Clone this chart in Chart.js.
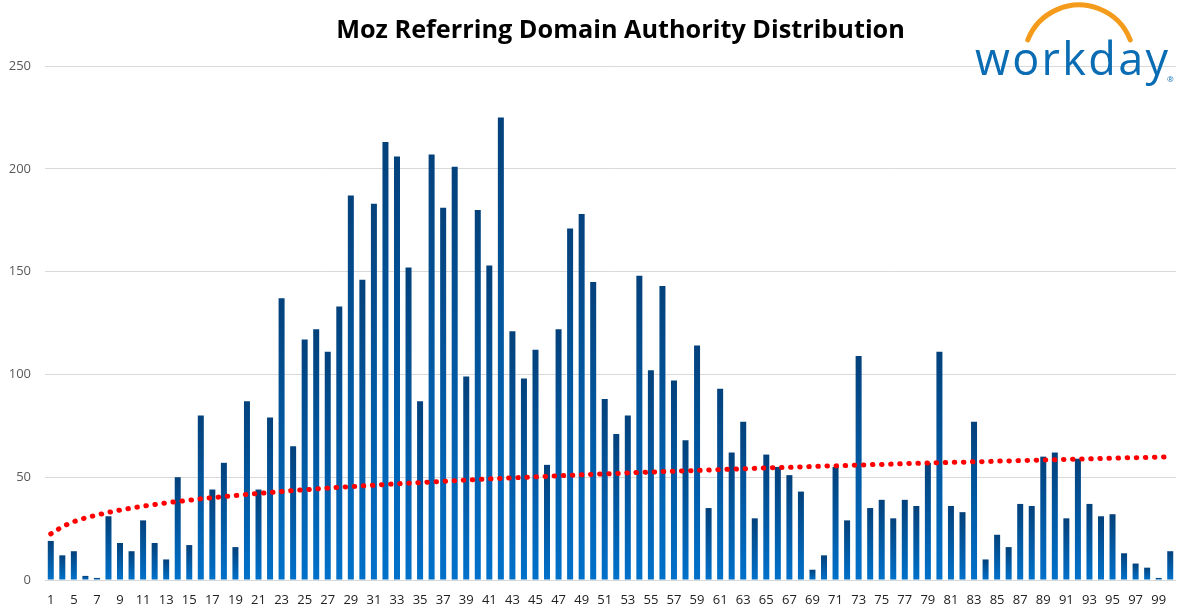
<!DOCTYPE html>
<html>
<head>
<meta charset="utf-8">
<title>Moz Referring Domain Authority Distribution</title>
<script src="https://cdn.jsdelivr.net/npm/chart.js@4/dist/chart.umd.min.js"></script>
<style>
  html, body { margin: 0; padding: 0; background: #fff; }
  #wrap { position: relative; width: 1188px; height: 610px; }
</style>
</head>
<body>
<div id="wrap"><canvas id="chart1" width="1188" height="610"></canvas></div>
<script>

// domain authority buckets (2 and 4 have no referring domains)
var categories = [1, 3, 5, 6, 7, 8, 9, 10, 11, 12, 13, 14, 15, 16, 17, 18, 19, 20,
  21, 22, 23, 24, 25, 26, 27, 28, 29, 30, 31, 32, 33, 34, 35, 36, 37, 38, 39, 40,
  41, 42, 43, 44, 45, 46, 47, 48, 49, 50, 51, 52, 53, 54, 55, 56, 57, 58, 59, 60,
  61, 62, 63, 64, 65, 66, 67, 68, 69, 70, 71, 72, 73, 74, 75, 76, 77, 78, 79, 80,
  81, 82, 83, 84, 85, 86, 87, 88, 89, 90, 91, 92, 93, 94, 95, 96, 97, 98, 99, 100];

// number of referring domains per bucket
var domains = [19, 12, 14, 2, 1, 31, 18, 14, 29, 18, 10, 50, 17, 80, 44, 57, 16,
  87, 44, 79, 137, 65, 117, 122, 111, 133, 187, 146, 183, 213, 206, 152, 87, 207,
  181, 201, 99, 180, 153, 225, 121, 98, 112, 56, 122, 171, 178, 145, 88, 71,
  80, 148, 102, 143, 97, 68, 114, 35, 93, 62, 77, 30, 61, 55, 51, 43,
  5, 12, 55, 29, 109, 35, 39, 30, 39, 36, 57, 111, 36, 33, 77, 10, 22,
  16, 37, 36, 60, 62, 30, 59, 37, 31, 32, 13, 8, 6, 1, 14];

// trendline
var trend = [22.4, 26.0, 28.4, 30.2, 31.6, 32.9, 34.0, 35.0, 35.9, 36.7,
  37.5, 38.2, 38.8, 39.5, 40.0, 40.6, 41.1, 41.6, 42.1, 42.6,
  43.0, 43.5, 43.9, 44.3, 44.7, 45.1, 45.4, 45.8, 46.1, 46.5,
  46.8, 47.1, 47.4, 47.7, 48.0, 48.3, 48.6, 48.9, 49.2, 49.4,
  49.7, 49.9, 50.2, 50.4, 50.7, 50.9, 51.2, 51.4, 51.6, 51.8,
  52.1, 52.3, 52.5, 52.7, 52.9, 53.1, 53.3, 53.5, 53.7, 53.9,
  54.1, 54.3, 54.5, 54.7, 54.8, 55.0, 55.2, 55.4, 55.5, 55.7,
  55.9, 56.1, 56.2, 56.4, 56.6, 56.7, 56.9, 57.0, 57.2, 57.3,
  57.5, 57.6, 57.8, 57.9, 58.1, 58.2, 58.4, 58.5, 58.7, 58.8,
  58.9, 59.1, 59.2, 59.4, 59.5, 59.6, 59.8, 59.9];

var Y_MAX = 250;
var Y_STEP = 50;

var TITLE = 'Moz Referring Domain Authority Distribution';
var LOGO = 'workday';

// gradient for each bar, dark at the top, lighter at the base
function barFill(c) {
  var chart = c.chart;
  if (!chart.chartArea || c.parsed === undefined) return '#0a5a9e';
  var y = chart.scales.y;
  var top = y.getPixelForValue(c.parsed.y);
  var base = y.getPixelForValue(0);
  if (base - top < 1) top = base - 1;
  var g = chart.ctx.createLinearGradient(0, top, 0, base);
  g.addColorStop(0, '#03417b');
  g.addColorStop(1, '#0071ca');
  return g;
}

var decor = {
  id: 'decor',
  afterDraw: function (chart) {
    var ctx = chart.ctx;
    ctx.save();

    // title, sized to span the same width as in the original
    ctx.font = 'bold 26px "Open Sans"';
    var size = 26 * 569 / ctx.measureText(TITLE).width;
    ctx.font = 'bold ' + size.toFixed(2) + 'px "Open Sans"';
    ctx.fillStyle = '#000';
    ctx.textAlign = 'center';
    ctx.textBaseline = 'alphabetic';
    ctx.fillText(TITLE, 620.5, 38);

    // logo arc
    ctx.strokeStyle = '#f49b1c';
    ctx.lineWidth = 5;
    ctx.lineCap = 'round';
    ctx.beginPath();
    ctx.arc(1079, 60, 55, -2.768, -0.373);
    ctx.stroke();

    // logo word, spread to its width in the picture
    ctx.font = '45px "Open Sans"';
    ctx.fillStyle = '#0a6cb3';
    ctx.textAlign = 'left';
    var w = ctx.measureText(LOGO).width;
    var gap = (193 - w) / (LOGO.length - 1);
    var x = 975;
    for (var i = 0; i < LOGO.length; i++) {
      ctx.fillText(LOGO[i], x, 75);
      x += ctx.measureText(LOGO[i]).width + gap;
    }
    ctx.font = '8px "Open Sans"';
    ctx.fillText('\u00AE', 1167, 82);

    ctx.restore();
  }
};

function draw() {
  new Chart(document.getElementById('chart1'), {
    data: {
      labels: categories,
      datasets: [
        {
          type: 'line',
          data: trend,
          order: 0,
          borderColor: '#ff0000',
          borderWidth: 5,
          borderDash: [0.5, 8.6],
          borderCapStyle: 'round',
          pointRadius: 0,
          fill: false,
          tension: 0
        },
        {
          type: 'bar',
          data: domains,
          order: 1,
          backgroundColor: barFill,
          categoryPercentage: 1,
          barPercentage: 0.52
        }
      ]
    },
    options: {
      responsive: false,
      animation: false,
      devicePixelRatio: 1,
      layout: {padding: {left: 0, right: 12, top: 66, bottom: 0}},
      plugins: {
        legend: {display: false},
        tooltip: {enabled: false},
        title: {display: false}
      },
      scales: {
        x: {
          grid: {display: false, drawTicks: false},
          border: {display: false},
          ticks: {
            autoSkip: false,
            maxRotation: 0,
            minRotation: 0,
            padding: 12,
            color: '#222',
            font: {family: 'Open Sans', size: 13},
            callback: function (v, i) { return i % 2 === 0 ? categories[i] : ''; }
          },
          afterFit: function (s) { s.height = 30; }
        },
        y: {
          min: 0,
          max: Y_MAX,
          grid: {color: '#d9d9d9', drawTicks: false},
          border: {display: false},
          ticks: {
            stepSize: Y_STEP,
            padding: 14,
            color: '#595959',
            font: {family: 'Open Sans', size: 13}
          },
          afterFit: function (s) { s.width = 45; }
        }
      }
    },
    plugins: [decor]
  });
}

Promise.all([
  document.fonts.load('bold 26px "Open Sans"'),
  document.fonts.load('45px "Open Sans"'),
  document.fonts.load('13px "Open Sans"')
]).then(draw, draw);

</script>
</body>
</html>
